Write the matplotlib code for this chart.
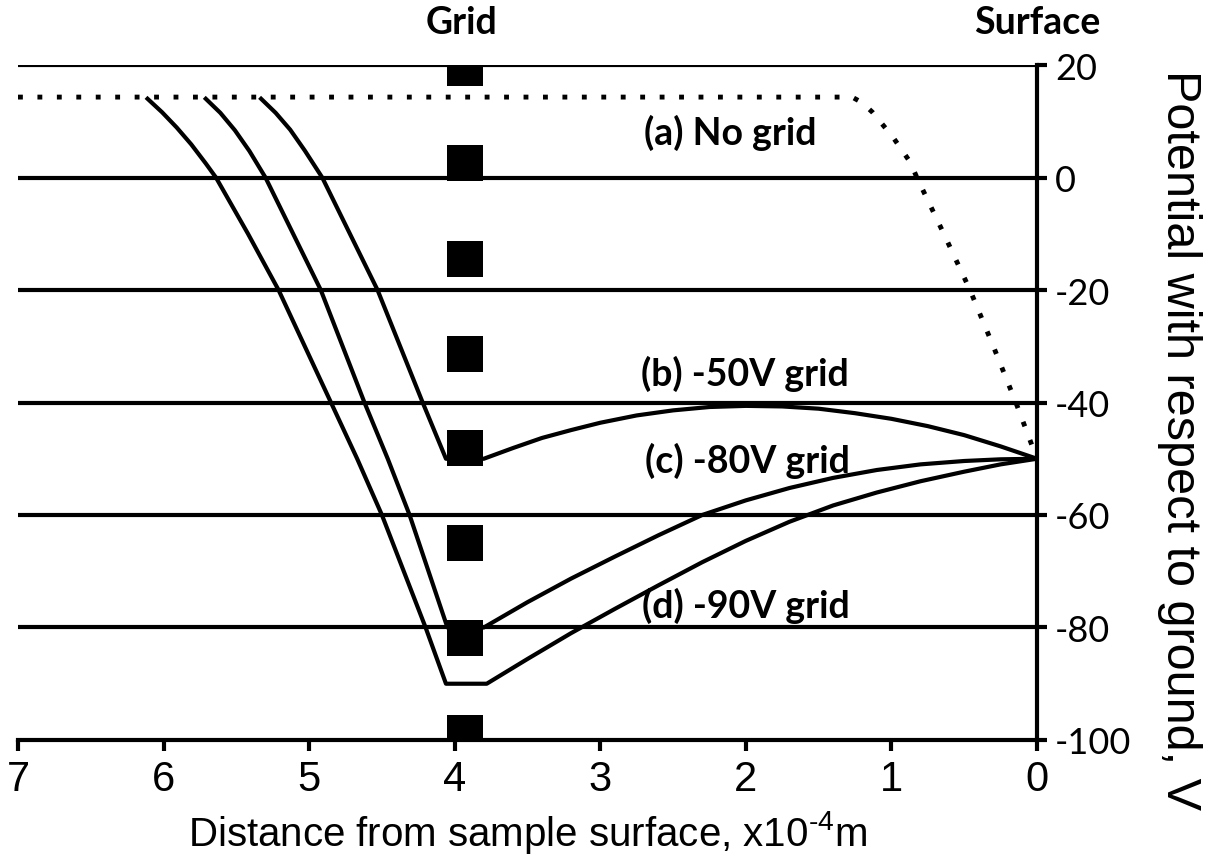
import matplotlib.pyplot as plt

plt.rcParams['axes.unicode_minus'] = False
plt.rcParams['mathtext.fontset'] = 'custom'
plt.rcParams['mathtext.rm'] = 'Liberation Sans'

# potential profiles between sample surface (x=0) and grid (x~4), x in 1e-4 m
no_grid_x = [7.0, 1.27, 1.20, 1.13, 0.99, 0.87, 0.825, 0.64, 0.46, 0.30, 0.145, 0.0]
no_grid_y = [14.3, 14.3, 13.3, 11.6, 7.2, 2.7, 0.0, -10.0, -20.0, -30.0, -40.0, -50.0]

grid50_x = [5.33, 5.23, 5.13, 5.03, 4.91, 4.72, 4.53, 4.375, 4.22, 4.14, 4.06, 3.80,
            3.6, 3.4, 3.2, 3.0, 2.75, 2.5, 2.25, 2.0, 1.75, 1.5, 1.25, 1.0,
            0.75, 0.5, 0.25, 0.0]
grid50_y = [14.0, 11.5, 8.5, 4.8, 0.0, -10.0, -20.0, -30.0, -40.0, -45.0, -50.0, -50.0,
            -48.1, -46.3, -44.9, -43.6, -42.3, -41.4, -40.8, -40.6, -40.7, -41.1, -41.9, -42.9,
            -44.2, -45.8, -47.8, -50.0]

grid80_x = [5.71, 5.61, 5.51, 5.41, 5.30, 5.11, 4.92, 4.77, 4.62, 4.46, 4.31, 4.18, 4.05, 3.80,
            3.5, 3.2, 2.9, 2.6, 2.3, 2.0, 1.7, 1.4, 1.1, 0.8, 0.5, 0.25, 0.0]
grid80_y = [14.0, 11.5, 8.4, 4.7, 0.0, -10.0, -20.0, -30.0, -40.0, -50.0, -60.0, -70.0, -80.0, -80.0,
            -75.5, -71.3, -67.4, -63.6, -60.0, -57.4, -55.2, -53.4, -52.0, -51.0, -50.4, -50.1, -50.0]

grid90_x = [6.11, 6.01, 5.91, 5.81, 5.71, 5.64, 5.42, 5.21, 5.03, 4.85, 4.67, 4.50, 4.35, 4.20,
            4.06, 3.78, 3.5, 3.2, 2.9, 2.6, 2.3, 2.0, 1.7, 1.4, 1.1, 0.8, 0.5, 0.25, 0.0]
grid90_y = [14.0, 11.6, 8.9, 5.9, 2.5, 0.0, -10.0, -20.0, -30.0, -40.0, -50.0, -60.0, -70.0, -80.0,
            -90.0, -90.0, -85.6, -81.0, -76.7, -72.5, -68.4, -64.6, -61.2, -58.3, -56.0, -54.0,
            -52.3, -51.0, -50.0]

# grid wires seen edge-on
wire_x = 3.93
wire_y = [19.5, 2.6, -14.4, -31.3, -48.1, -65.0, -81.9, -98.8]

yticks = [20, 0, -20, -40, -60, -80, -100]
xticks = [7, 6, 5, 4, 3, 2, 1, 0]

labels = ['(a) No grid', '(b) -50V grid', '(c) -80V grid', '(d) -90V grid']
label_x = [2.11, 2.01, 1.99, 2.0]
label_y = [8.2, -34.7, -50.2, -76.0]

fig = plt.figure(figsize=(12.24, 8.62), dpi=100)
ax = fig.add_axes([0.0147, 0.1404, 0.8325, 0.783])

for v in yticks[:-1]:
    ax.axhline(v, color='black', lw=3, zorder=1)

ax.plot(no_grid_x, no_grid_y, color='black', lw=3.5, linestyle=(0, (1, 3)),
        dash_capstyle='butt', zorder=2)
for xs, ys in [(grid50_x, grid50_y), (grid80_x, grid80_y), (grid90_x, grid90_y)]:
    ax.plot(xs, ys, color='black', lw=3, solid_joinstyle='round', zorder=2)

ax.scatter([wire_x] * len(wire_y), wire_y, marker='s', s=26 ** 2,
           color='black', linewidths=0, zorder=3)

bold = dict(family='Lato', weight='bold', size=27, ha='center', va='center')
for t, x, y in zip(labels, label_x, label_y):
    ax.text(x, y, t, **bold)
ax.text(3.95, 27.7, 'Grid', clip_on=False, **bold)
ax.text(0.0, 27.7, 'Surface', clip_on=False, **bold)

ax.set_xlim(7, 0)
ax.set_ylim(-100, 20)
ax.set_xticks(xticks)
ax.set_yticks(yticks)
ax.yaxis.tick_right()

for side in ['top', 'left']:
    ax.spines[side].set_visible(False)
for side in ['bottom', 'right']:
    ax.spines[side].set_linewidth(3)

ax.tick_params(axis='x', direction='out', length=8, width=3, pad=6)
ax.tick_params(axis='y', direction='out', length=7, width=3, pad=6)
for lab in ax.get_xticklabels():
    lab.set_family('Liberation Sans')
    lab.set_fontsize(30)
for lab in ax.get_yticklabels():
    lab.set_family('Lato')
    lab.set_fontsize(26)

ax.set_xlabel('Distance from sample surface, x10$^{\\mathrm{\u20104}}$m',
              family='Liberation Sans', fontsize=29, labelpad=6)
fig.text(0.964, 0.49, 'Potential with respect to ground, V', rotation=-90,
         family='Liberation Sans', fontsize=35, ha='center', va='center')

fig.savefig('out.png', dpi=100)
